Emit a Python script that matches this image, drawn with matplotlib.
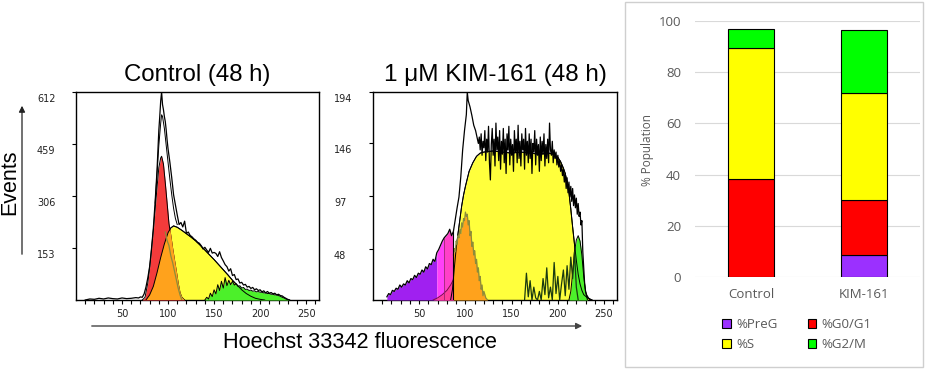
import numpy as np
import matplotlib
matplotlib.use("Agg")
import matplotlib.pyplot as plt
from matplotlib.patches import FancyArrowPatch, Rectangle, Patch
import matplotlib.transforms as mtransforms

# ---------------- data: histograms (x = Hoechst channel, y = events) ----------------
ctrl_yticks = [153, 306, 459, 612]
kim_yticks = [48, 97, 146, 194]
hist_xticks = [50, 100, 150, 200, 250]

ctrl_envelope = [(10, 0), (15, 3), (20, 2), (25, 5), (30, 3), (35, 6), (40, 4), (45, 3), (50, 6), (55, 4),
                 (60, 5), (65, 7), (68, 6), (70, 9), (72, 8), (74, 18), (76, 38), (78, 65), (80, 98), (82, 150),
                 (84, 210), (86, 290), (88, 380), (90, 500), (91, 540), (92, 585), (93, 612), (94, 575), (95, 560),
                 (96, 540), (97, 525), (98, 500), (99, 470), (100, 445), (102, 405), (104, 360), (106, 310),
                 (108, 280), (110, 250), (112, 222), (114, 228), (116, 215), (118, 232), (120, 196), (122, 200),
                 (124, 190), (126, 186), (128, 180), (130, 176), (132, 170), (134, 167), (136, 160), (138, 150),
                 (140, 155), (142, 147), (144, 140), (146, 152), (148, 138), (150, 140), (152, 137), (154, 128),
                 (156, 142), (158, 125), (160, 115), (162, 104), (164, 98), (166, 85), (168, 92), (170, 72),
                 (172, 75), (174, 60), (176, 62), (178, 50), (180, 52), (182, 44), (184, 46), (186, 38), (188, 40),
                 (190, 34), (192, 37), (194, 30), (196, 33), (198, 28), (200, 30), (202, 24), (204, 27), (206, 21),
                 (208, 25), (210, 20), (212, 22), (214, 18), (216, 20), (218, 15), (220, 17), (222, 13), (224, 12),
                 (226, 8), (228, 5), (230, 2), (232, 0)]
ctrl_fit = [(86, 285), (88, 370), (90, 455), (92, 520), (93, 545), (94, 540), (96, 505), (98, 455), (100, 405),
            (102, 355), (104, 310), (106, 270), (108, 240), (110, 222)]
ctrl_g1 = [(72, 0), (75, 8), (78, 50), (81, 120), (84, 205), (87, 300), (90, 390), (92, 418), (93, 423), (95, 400),
           (97, 345), (99, 285), (101, 225), (103, 190), (105, 152), (107, 118), (109, 85), (111, 50), (113, 22),
           (115, 8), (118, 0)]
ctrl_s = [(76, 0), (80, 15), (84, 40), (88, 80), (92, 125), (96, 165), (100, 198), (103, 212), (106, 218), (110, 214),
          (115, 205), (120, 195), (125, 185), (130, 174), (135, 161), (140, 147), (145, 133), (150, 119), (155, 104),
          (160, 89), (165, 74), (170, 58), (175, 44), (180, 30), (185, 19), (190, 11), (195, 5), (200, 2), (205, 0)]
ctrl_g2m = [(140, 0), (142, 8), (144, 3), (146, 20), (148, 10), (150, 30), (152, 18), (154, 45), (156, 28), (158, 55),
            (160, 35), (162, 66), (164, 42), (166, 58), (168, 45), (170, 55), (172, 44), (174, 48), (176, 40),
            (178, 42), (180, 35), (182, 37), (184, 31), (186, 32), (188, 28), (190, 29), (192, 26), (194, 27),
            (196, 24), (198, 25), (200, 23), (202, 23), (204, 21), (206, 21), (208, 19), (210, 19), (212, 17),
            (214, 17), (216, 15), (218, 15), (220, 13), (222, 11), (224, 8), (226, 6), (228, 3), (230, 1), (232, 0)]
ctrl_resid = [(97, 200), (99, 175), (101, 160), (103, 130), (105, 110), (107, 85), (109, 60), (111, 35), (113, 15),
              (115, 0)]

kim_envelope = [(15, 3), (17, 6), (19, 5), (21, 9), (23, 8), (25, 11), (27, 10), (29, 14), (31, 12), (33, 15),
                (35, 14), (37, 18), (39, 16), (41, 20), (43, 19), (45, 23), (47, 21), (49, 25), (51, 24), (53, 28),
                (55, 26), (57, 31), (59, 29), (61, 34), (63, 33), (65, 38), (67, 36), (69, 44), (71, 47), (73, 51),
                (75, 55), (77, 58), (79, 60), (81, 62), (83, 66), (85, 60), (87, 64), (89, 75), (91, 86), (93, 96),
                (95, 115), (97, 140), (99, 158), (101, 173), (102, 194), (103, 186), (105, 180), (107, 172),
                (109, 163), (111, 158), (113, 150), (114, 146), (115, 152), (116, 140), (117, 155), (118, 135),
                (119, 148), (120, 142), (121, 158), (122, 130), (123, 150), (124, 138), (125, 162), (126, 128),
                (127, 112), (128, 145), (129, 160), (130, 135), (131, 150), (132, 125), (133, 165), (134, 140),
                (135, 152), (136, 130), (137, 158), (138, 122), (139, 148), (140, 136), (141, 160), (142, 128),
                (143, 150), (144, 118), (145, 155), (146, 140), (147, 162), (148, 126), (149, 150), (150, 135),
                (151, 145), (152, 120), (153, 158), (154, 138), (155, 150), (156, 128), (157, 163), (158, 132),
                (159, 148), (160, 125), (161, 155), (162, 140), (163, 150), (164, 122), (165, 160), (166, 135),
                (167, 148), (168, 128), (169, 155), (170, 132), (171, 150), (172, 118), (173, 146), (174, 138),
                (175, 158), (176, 126), (177, 150), (178, 135), (179, 145), (180, 120), (181, 152), (182, 130),
                (183, 148), (184, 136), (185, 155), (186, 125), (187, 145), (188, 132), (189, 150), (190, 128),
                (191, 165), (192, 140), (193, 135), (194, 148), (195, 128), (196, 140), (197, 132), (198, 138),
                (199, 126), (200, 135), (201, 124), (202, 130), (203, 120), (204, 126), (205, 116), (206, 122),
                (207, 110), (208, 118), (209, 104), (210, 114), (211, 100), (212, 110), (213, 96), (214, 106),
                (215, 92), (216, 104), (217, 88), (218, 98), (219, 86), (220, 95), (221, 80), (222, 90), (223, 78),
                (224, 82), (225, 70), (226, 74), (227, 45), (228, 30), (229, 15), (230, 8), (231, 5), (233, 2),
                (235, 0)]
kim_g1_fit = [(65, 0), (70, 2), (75, 5), (80, 9), (84, 14), (87, 19)]
kim_g1 = [(87, 42), (88, 48), (89, 45), (90, 55), (91, 52), (92, 60), (93, 58), (94, 66), (95, 62), (96, 72),
          (97, 68), (98, 76), (99, 74), (100, 82), (101, 78), (102, 80), (103, 70), (104, 74), (105, 60), (106, 64),
          (107, 50), (108, 54), (109, 42), (110, 46), (111, 34), (112, 38), (113, 26), (114, 30), (115, 18),
          (116, 22), (117, 10), (118, 14), (119, 4), (120, 8), (122, 2), (124, 0)]
kim_s = [(84, 0), (86, 10), (88, 30), (90, 48), (92, 62), (94, 75), (96, 88), (98, 98), (100, 106), (104, 120),
         (108, 128), (112, 134), (116, 137), (120, 138), (130, 139), (140, 138), (150, 137), (160, 138), (170, 137),
         (180, 136), (190, 137), (195, 136), (200, 133), (203, 129), (206, 123), (208, 118), (210, 110), (212, 100),
         (214, 85), (216, 68), (218, 52), (220, 37), (222, 24), (224, 15), (226, 9), (228, 5), (232, 2), (237, 0)]
kim_g2m = [(212, 0), (214, 8), (216, 25), (218, 45), (220, 56), (222, 60), (224, 55), (226, 42), (228, 22), (230, 8),
           (232, 0)]
kim_resid = [(164, 0), (166, 25), (168, 3), (170, 18), (172, 0), (174, 12), (176, 2), (178, 0), (180, 8), (182, 0),
             (184, 20), (186, 5), (188, 30), (190, 2), (192, 12), (194, 0), (196, 35), (198, 6), (200, 22), (202, 0),
             (204, 15), (206, 28), (208, 4), (210, 32), (212, 10), (214, 40), (216, 20), (218, 45), (220, 12),
             (222, 0)]
kim_gates = [69, 77, 87]

# ---------------- data: stacked bars ----------------
bar_categories = ["Control", "KIM-161"]
pct_preg = [0.0, 8.6]
pct_g0g1 = [38.3, 21.4]
pct_s = [51.3, 42.0]
pct_g2m = [7.3, 24.5]

# ---------------- styling ----------------
C_RED = "#f43b3b"
C_ORANGE = "#ffa21c"
C_YELLOW = "#ffff3c"
C_GREEN = "#4cf02a"
C_PURPLE = "#a020f0"
C_MAGENTA = "#ff40f8"
C_PINK = "#ff40c8"
C_HOTPINK = "#ff3f9a"
C_OLIVE = "#8c8c3a"

W, H = 927, 370
fig = plt.figure(figsize=(W / 100, H / 100), dpi=100)


def fax(x0, y0, x1, y1):
    return [x0 / W, 1 - y1 / H, (x1 - x0) / W, (y1 - y0) / H]


def arr(pts):
    a = np.array(pts, dtype=float)
    return a[:, 0], a[:, 1]


def fill(ax, pts, color, z, edge=True, where=None):
    x, y = arr(pts)
    pc = ax.fill_between(x, 0, y, color=color, lw=0, zorder=z,
                         where=None if where is None else where(x))
    if edge:
        ax.plot(x, y, color="black", lw=0.7, zorder=z + 0.05)
    return pc


def setup_hist(ax, ymax, yticks):
    ax.set_xlim(0, 264)
    ax.set_ylim(0, ymax)
    ax.set_xticks(hist_xticks)
    ax.set_xticks(np.arange(10, 261, 10), minor=True)
    ax.set_yticks(yticks)
    ax.set_yticklabels([])
    ax.tick_params(axis="both", which="both", direction="out", length=3, width=0.8, color="black")
    ax.tick_params(axis="x", labelsize=7, pad=3.5, labelcolor="#222222")
    for s in ax.spines.values():
        s.set_linewidth(1.0)
    off = mtransforms.ScaledTranslation(-39 / 100, -7 / 100, fig.dpi_scale_trans)
    tr = ax.get_yaxis_transform() + off
    for t in yticks:
        ax.text(0, t, str(t), transform=tr, ha="left", va="center", fontsize=7, color="#222222")


# ---------------- Control histogram ----------------
ax1 = fig.add_axes(fax(76, 92, 319, 300))
setup_hist(ax1, 612, ctrl_yticks)
ys = fill(ax1, ctrl_s, C_YELLOW, 2)
fill(ax1, ctrl_g2m, C_GREEN, 3)
fill(ax1, ctrl_g1, C_RED, 4)
x, y = arr(ctrl_g1)
orange = ax1.fill_between(x, 0, y, color=C_ORANGE, lw=0, zorder=4.5)
orange.set_clip_path(ys.get_paths()[0], ax1.transData)
x, y = arr(ctrl_s)
ax1.plot(x, y, color="black", lw=0.7, zorder=4.6)
x, y = arr(ctrl_resid)
ax1.plot(x, y, color=C_OLIVE, lw=0.9, zorder=4.7)
x, y = arr(ctrl_fit)
ax1.plot(x, y, color="black", lw=0.7, zorder=5.5)
x, y = arr(ctrl_envelope)
ax1.plot(x, y, color="black", lw=0.9, zorder=6)
ax1.set_title("Control (48 h)", fontsize=17.3, family="Liberation Sans", pad=8)

# ---------------- KIM-161 histogram ----------------
ax2 = fig.add_axes(fax(373, 92, 617, 300))
setup_hist(ax2, 194, kim_yticks)
ys2 = fill(ax2, kim_s, C_YELLOW, 2)
fill(ax2, kim_g2m, C_GREEN, 3)
g0, g1_, g2 = kim_gates
fill(ax2, kim_envelope, C_PURPLE, 3.5, edge=False, where=lambda v: v <= g0)
fill(ax2, kim_envelope, C_MAGENTA, 3.5, edge=False, where=lambda v: (v >= g0) & (v <= g1_))
fill(ax2, kim_envelope, C_PINK, 3.5, edge=False, where=lambda v: (v >= g1_) & (v <= g2))
x, y = arr(kim_g1_fit)
ax2.fill_between(x, 0, y, color=C_HOTPINK, lw=0, zorder=3.6)
ax2.plot(x, y, color="#7a1040", lw=0.7, zorder=3.7)
x, y = arr(kim_g1)
ax2.fill_between(x, 0, y, color=C_ORANGE, lw=0, zorder=4.0)
ax2.plot(x, y, color=C_OLIVE, lw=0.9, zorder=4.7)
x, y = arr(kim_s)
ax2.plot(x, y, color="black", lw=0.7, zorder=4.6)
x, y = arr(kim_resid)
ax2.plot(x, y, color="#1a3a10", lw=0.9, zorder=4.7)
ex, ey = arr(kim_envelope)
ax2.plot(ex, ey, color="black", lw=0.9, zorder=6)
ax2.vlines(g1_, 0, ey[ex == g1_][0], color="#9a2070", lw=0.6, zorder=5)
ax2.vlines(g2, 0, ey[ex == g2][0], color="black", lw=0.8, zorder=6)
ax2.set_title("1 \u03bcM KIM-161 (48 h)", fontsize=17.5, family="Liberation Sans", pad=8)

# ---------------- axis labels / arrows for histograms ----------------
fig.text(10 / W, 1 - 182 / H, "Events", rotation=90, ha="center", va="center",
         fontsize=15.5, family="Liberation Sans")
fig.text(360 / W, 1 - 342 / H, "Hoechst 33342 fluorescence", ha="center", va="center",
         fontsize=15.6, family="Liberation Sans")
fig.add_artist(FancyArrowPatch((22 / W, 1 - 257 / H), (22 / W, 1 - 103 / H), transform=fig.transFigure,
                               arrowstyle="-|>", mutation_scale=9, lw=0.9, color="#222222"))
fig.add_artist(FancyArrowPatch((89 / W, 1 - 326 / H), (585 / W, 1 - 326 / H), transform=fig.transFigure,
                               arrowstyle="-|>", mutation_scale=9, lw=1.0, color="#444444"))

# ---------------- stacked bar panel ----------------
fig.add_artist(Rectangle((625 / W, 1 - 367 / H), (923 - 625) / W, (367 - 2) / H, transform=fig.transFigure,
                         facecolor="white", edgecolor="#cfcfcf", lw=1.0, zorder=0))
ax3 = fig.add_axes(fax(695, 21, 920, 277))
ax3.set_zorder(1)
pos = np.arange(len(bar_categories))
bw = 0.41
bottom = np.zeros(len(pos))
handles = []
for vals, col, lab in [(pct_preg, "#9b30ff", "%PreG"), (pct_g0g1, "#ff0000", "%G0/G1"),
                       (pct_s, "#ffff00", "%S"), (pct_g2m, "#00ff00", "%G2/M")]:
    b = ax3.bar(pos, vals, bw, bottom=bottom, color=col, edgecolor="black", lw=0.8, zorder=3)
    handles.append((col, lab))
    bottom = bottom + np.array(vals)
ax3.set_xlim(-0.5, 1.5)
ax3.set_ylim(0, 100)
ax3.set_yticks(np.arange(0, 101, 20))
ax3.set_xticks(pos)
ax3.set_xticklabels(bar_categories)
ax3.yaxis.grid(True, color="#d9d9d9", lw=0.8)
ax3.set_axisbelow(True)
for s in ax3.spines.values():
    s.set_visible(False)
ax3.tick_params(axis="both", length=0, labelsize=9.5, labelcolor="#595959")
ax3.tick_params(axis="y", pad=10)
ax3.tick_params(axis="x", pad=8)
for t in ax3.get_xticklabels() + ax3.get_yticklabels():
    t.set_family("Open Sans")
ax3.set_ylabel("% Population", fontsize=8.5, color="#595959", family="Open Sans")
ax3.yaxis.set_label_coords((654 - 695) / (920 - 695), (277 - 150) / (277 - 21))

order = [0, 2, 1, 3]
leg = fig.legend([Patch(facecolor=handles[i][0], edgecolor="black", lw=0.8) for i in order],
                 [handles[i][1] for i in order], ncol=2, loc="center",
                 bbox_to_anchor=(797 / W, 1 - 334.5 / H), frameon=False,
                 prop={"family": "Open Sans", "size": 9.5}, handlelength=0.65, handleheight=0.65,
                 handletextpad=0.4, columnspacing=2.3, labelspacing=0.55)
for t in leg.get_texts():
    t.set_color("#595959")

fig.savefig("out.png", dpi=100)
